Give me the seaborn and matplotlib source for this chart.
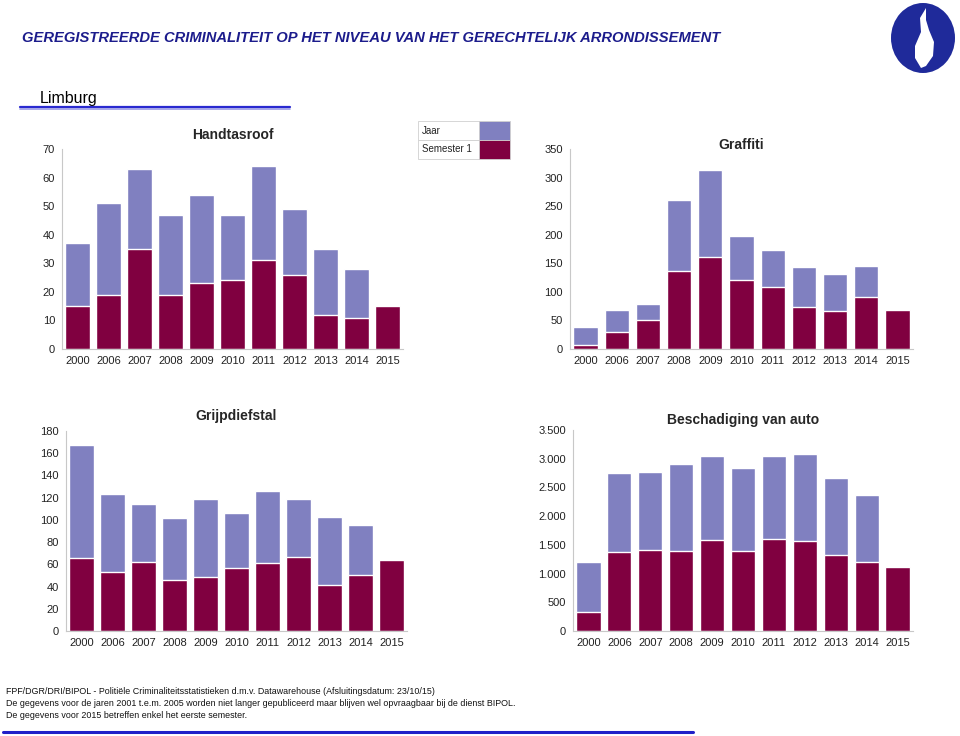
import numpy as np
import pandas as pd
import matplotlib.pyplot as plt
import matplotlib.patches as mpatches
from matplotlib.path import Path
from matplotlib.ticker import FuncFormatter, MultipleLocator
import seaborn as sns

# 데이터
years = ['2000', '2006', '2007', '2008', '2009', '2010', '2011', '2012', '2013', '2014', '2015']

handtas_jaar = [37, 51, 63, 47, 54, 47, 64, 49, 35, 28, np.nan]
handtas_sem = [15, 19, 35, 19, 23, 24, 31, 26, 12, 11, 15]

graffiti_jaar = [38, 68, 78, 261, 314, 198, 174, 144, 132, 145, np.nan]
graffiti_sem = [7, 29, 51, 137, 161, 121, 108, 73, 66, 91, 69]

grijp_jaar = [167, 123, 114, 102, 119, 106, 126, 119, 103, 95, np.nan]
grijp_sem = [66, 53, 62, 46, 49, 57, 61, 67, 41, 50, 64]

besch_jaar = [1210, 2750, 2770, 2910, 3050, 2840, 3040, 3090, 2660, 2360, np.nan]
besch_sem = [330, 1370, 1410, 1400, 1580, 1400, 1600, 1570, 1330, 1200, 1120]

c_jaar = '#8080c0'
c_sem = '#800040'
c_navy = '#1c1c8c'

sns.set_style('white')
plt.rcParams['font.family'] = ['Liberation Sans', 'DejaVu Sans']

W, H = 960, 736
fig = plt.figure(figsize=(9.6, 7.36), dpi=100)


def px_axes(left, top, right, bottom):
    return fig.add_axes([left / W, 1 - bottom / H, (right - left) / W, (bottom - top) / H])


def panel(ax, title, jaar, sem, ymax, step, dutch=False, tpad=6):
    df = pd.DataFrame({'year': years, 'jaar': jaar, 'sem': sem})
    sns.barplot(data=df, x='year', y='jaar', order=years, color=c_jaar, saturation=1,
                width=0.78, ax=ax, errorbar=None)
    sns.barplot(data=df, x='year', y='sem', order=years, color=c_sem, saturation=1,
                width=0.78, ax=ax, errorbar=None)
    ax.set_xlabel('')
    ax.set_ylabel('')
    ax.set_ylim(0, ymax)
    ax.set_xlim(-0.5, len(years) - 0.5)
    ax.yaxis.set_major_locator(MultipleLocator(step))
    if dutch:
        ax.yaxis.set_major_formatter(FuncFormatter(lambda v, p: f'{int(v):,}'.replace(',', '.')))
    for s in ['top', 'right']:
        ax.spines[s].set_visible(False)
    for s in ['left', 'bottom']:
        ax.spines[s].set_color('#c8c8c8')
        ax.spines[s].set_linewidth(0.8)
    ax.set_xticks(np.arange(-0.5, len(years)), minor=True)
    ax.tick_params(axis='x', which='major', length=0, labelsize=8, colors='#222222', pad=5)
    ax.tick_params(axis='x', which='minor', length=4, color='#c8c8c8', direction='out')
    ax.tick_params(axis='y', length=3, pad=2, color='#c8c8c8', labelsize=8, labelcolor='#222222',
                   direction='out')
    ax.set_title(title, fontsize=10, fontweight='bold', pad=tpad)


ax1 = px_axes(62, 149, 403, 349)
panel(ax1, 'Handtasroof', handtas_jaar, handtas_sem, 70, 10, tpad=7)
ax2 = px_axes(570, 149, 913, 349)
panel(ax2, 'Graffiti', graffiti_jaar, graffiti_sem, 350, 50, tpad=0)
ax3 = px_axes(66, 431, 407, 631)
panel(ax3, 'Grijpdiefstal', grijp_jaar, grijp_sem, 180, 20, tpad=8)
ax4 = px_axes(573, 430, 913, 631)
panel(ax4, 'Beschadiging van auto', besch_jaar, besch_sem, 3500, 500, dutch=True, tpad=4)

# 제목
fig.text(22 / W, 1 - 38 / H, 'GEREGISTREERDE CRIMINALITEIT OP HET NIVEAU VAN HET GERECHTELIJK ARRONDISSEMENT',
         fontsize=10.6, fontweight='bold', style='italic', color=c_navy, va='center', ha='left')
fig.text(40 / W, 1 - 99 / H, 'Limburg', fontsize=11.5, color='black', va='center', ha='left')
fig.add_artist(plt.Line2D([20 / W, 290 / W], [1 - 106.5 / H] * 2, color='#2a2ad0', lw=1.6))
fig.add_artist(plt.Line2D([20 / W, 290 / W], [1 - 109 / H] * 2, color='#9a9ae6', lw=1.2))

# 범례 (표 형태)
for i, (lab, col) in enumerate([('Jaar', c_jaar), ('Semester 1', c_sem)]):
    top = 121 + i * 19
    fig.add_artist(mpatches.Rectangle((418 / W, 1 - (top + 19) / H), 61 / W, 19 / H,
                                      facecolor='white', edgecolor='#d0d0d0', lw=0.6))
    fig.add_artist(mpatches.Rectangle((479 / W, 1 - (top + 19) / H), 31 / W, 19 / H,
                                      facecolor=col, edgecolor='#d0d0d0', lw=0.6))
    fig.text(422 / W, 1 - (top + 9.5) / H, lab, fontsize=7, va='center', ha='left', color='#222222')

# 로고
fig.add_artist(mpatches.Ellipse((923 / W, 1 - 38 / H), 64 / W, 70 / H, facecolor='#1f2a9a', edgecolor='none'))
flame = [(926, 8), (920, 18), (921, 32), (915, 46), (915, 58), (921, 68), (926, 66),
         (933, 56), (934, 42), (929, 30), (926, 20), (926, 8)]
verts = [(x / W, 1 - y / H) for x, y in flame]
fig.add_artist(mpatches.PathPatch(Path(verts), facecolor='white', edgecolor='none', transform=fig.transFigure))

# 출처
foot = ['FPF/DGR/DRI/BIPOL - Politiële Criminaliteitsstatistieken d.m.v. Datawarehouse (Afsluitingsdatum: 23/10/15)',
        'De gegevens voor de jaren 2001 t.e.m. 2005 worden niet langer gepubliceerd maar blijven wel opvraagbaar bij de dienst BIPOL.',
        'De gegevens voor 2015 betreffen enkel het eerste semester.']
for i, t in enumerate(foot):
    fig.text(6 / W, 1 - (691 + i * 12.5) / H, t, fontsize=6.4, va='center', ha='left', color='#111111')
fig.add_artist(plt.Line2D([3 / W, 693 / W], [1 - 731.5 / H] * 2, color='#2020c8', lw=2.2))

fig.savefig('out.png', dpi=100)
